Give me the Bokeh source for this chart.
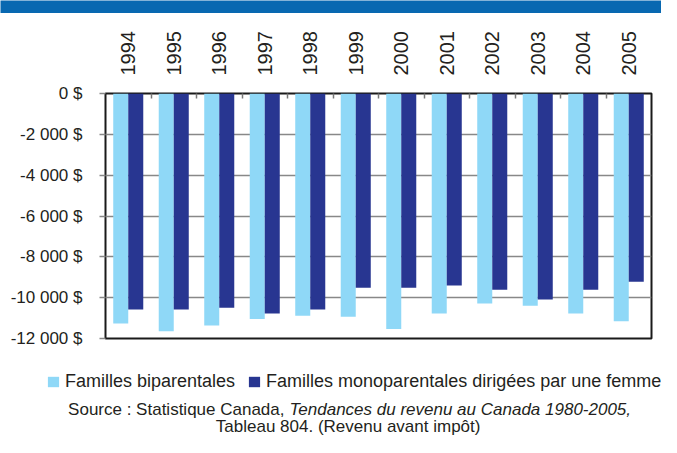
from bokeh.plotting import figure
from bokeh.layouts import column
from bokeh.models import (Range1d, LinearAxis, FixedTicker, Legend, LegendItem, Label)
from bokeh.embed import file_html
from bokeh.resources import INLINE

# ---- data ----
years = ["1994", "1995", "1996", "1997", "1998", "1999",
         "2000", "2001", "2002", "2003", "2004", "2005"]
biparentales = [-11270, -11640, -11360, -11050, -10880, -10940,
                -11540, -10780, -10290, -10390, -10780, -11150]
monoparentales = [-10580, -10580, -10490, -10780, -10580, -9510,
                  -9510, -9410, -9610, -10090, -9610, -9220]
y_ticks = [0, -2000, -4000, -6000, -8000, -10000, -12000]
y_tick_labels = ["0\u00a0$", "-2\u00a0000\u00a0$", "-4\u00a0000\u00a0$", "-6\u00a0000\u00a0$",
                 "-8\u00a0000\u00a0$", "-10\u00a0000\u00a0$", "-12\u00a0000\u00a0$"]
series_names = ["Familles biparentales",
                "Familles monoparentales dirigées par une femme"]
source_normal = "Source : Statistique Canada,"
source_italic = "Tendances du revenu au Canada 1980-2005,"
source_line2 = "Tableau 804.  (Revenu avant impôt)"

LIGHT = "#8fd8f7"
DARK = "#283691"
BAND = "#0868b1"
TXT = "#231f20"
FONT = "Liberation Sans"
W = 661

n = len(years)
centers = [i + 0.5 for i in range(n)]
bounds = [i for i in range(1, n)]
bw = 0.33

# ---- top band ----
band = figure(width=W, height=13, output_backend="svg", toolbar_location=None,
              x_axis_location=None, y_axis_location=None, min_border=0,
              x_range=Range1d(0, 1), y_range=Range1d(0, 1), frame_align=False)
band.outline_line_color = None
band.background_fill_color = BAND
band.border_fill_color = BAND
band.grid.visible = False

# ---- main chart ----
p = figure(width=W, height=352, output_backend="svg", toolbar_location=None,
           x_range=Range1d(0, n), y_range=Range1d(min(y_ticks), 0),
           x_axis_location=None, y_axis_location="left",
           min_border_left=105, min_border_right=10,
           min_border_top=80, min_border_bottom=27, frame_align=False)
p.background_fill_color = "white"
p.border_fill_color = "white"
p.outline_line_color = "#1a1a1a"
p.outline_line_width = 2

r1 = p.vbar(x=[c - bw / 2 for c in centers], top=biparentales, bottom=0,
            width=bw, fill_color=LIGHT, line_color=None)
r2 = p.vbar(x=[c + bw / 2 for c in centers], top=monoparentales, bottom=0,
            width=bw, fill_color=DARK, line_color=None)

yax = p.yaxis[0]
yax.ticker = FixedTicker(ticks=y_ticks)
yax.major_label_overrides = {t: l for t, l in zip(y_ticks, y_tick_labels)}
yax.major_label_text_font = FONT
yax.major_label_text_font_size = "17px"
yax.major_label_text_color = TXT
yax.major_label_standoff = 17
yax.major_tick_out = 6
yax.major_tick_in = 0
yax.major_tick_line_color = "#888888"
yax.major_tick_line_width = 1.5
yax.minor_tick_line_color = None
yax.axis_line_color = None

p.ygrid.ticker = FixedTicker(ticks=y_ticks)
p.ygrid.grid_line_color = "#888888"
p.ygrid.grid_line_width = 1.5
p.xgrid.grid_line_color = None

xax = LinearAxis(ticker=FixedTicker(ticks=centers, minor_ticks=bounds))
xax.major_label_overrides = {c: y for c, y in zip(centers, years)}
xax.major_label_orientation = "vertical"
xax.major_label_text_font = FONT
xax.major_label_text_font_size = "20px"
xax.major_label_text_color = TXT
xax.major_label_standoff = 18
xax.major_tick_line_color = None
xax.major_tick_in = 0
xax.major_tick_out = 0
xax.minor_tick_in = 5
xax.minor_tick_out = 0
xax.minor_tick_line_color = "#777777"
xax.minor_tick_line_width = 1.5
xax.axis_line_color = None
p.add_layout(xax, "above")

# ---- footer: legend and source ----
FH = 72
foot = figure(width=W, height=FH, output_backend="svg", toolbar_location=None,
              x_axis_location=None, y_axis_location=None, min_border=0,
              x_range=Range1d(0, W), y_range=Range1d(0, FH), frame_align=False)
foot.outline_line_color = None
foot.grid.visible = False
# legend keys: same series, out of this panel's visible range
k1 = foot.vbar(x=centers, top=biparentales, width=bw, fill_color=LIGHT, line_color=None)
k2 = foot.vbar(x=centers, top=monoparentales, width=bw, fill_color=DARK, line_color=None)

legend = Legend(items=[LegendItem(label=series_names[0], renderers=[k1]),
                       LegendItem(label=series_names[1], renderers=[k2])],
                orientation="horizontal", location=(46, 45))
legend.glyph_width = 14
legend.glyph_height = 13
legend.label_height = 13
legend.label_standoff = 5
legend.spacing = 12
legend.padding = 0
legend.margin = 0
legend.border_line_color = None
legend.background_fill_alpha = 0
legend.label_text_font = FONT
legend.label_text_font_size = "18px"
legend.label_text_color = TXT
foot.add_layout(legend)

common = dict(x_units="screen", y_units="screen", text_font=FONT,
              text_font_size="17px", text_color=TXT, text_baseline="alphabetic")
foot.add_layout(Label(x=284, y=28, text=source_normal, text_align="right", **common))
foot.add_layout(Label(x=289, y=28, text=source_italic, text_align="left",
                      text_font_style="italic", **common))
foot.add_layout(Label(x=350, y=11, text=source_line2, text_align="center", **common))

layout = column(band, p, foot, spacing=0)
open("out.html", "w").write(file_html(layout, INLINE))
